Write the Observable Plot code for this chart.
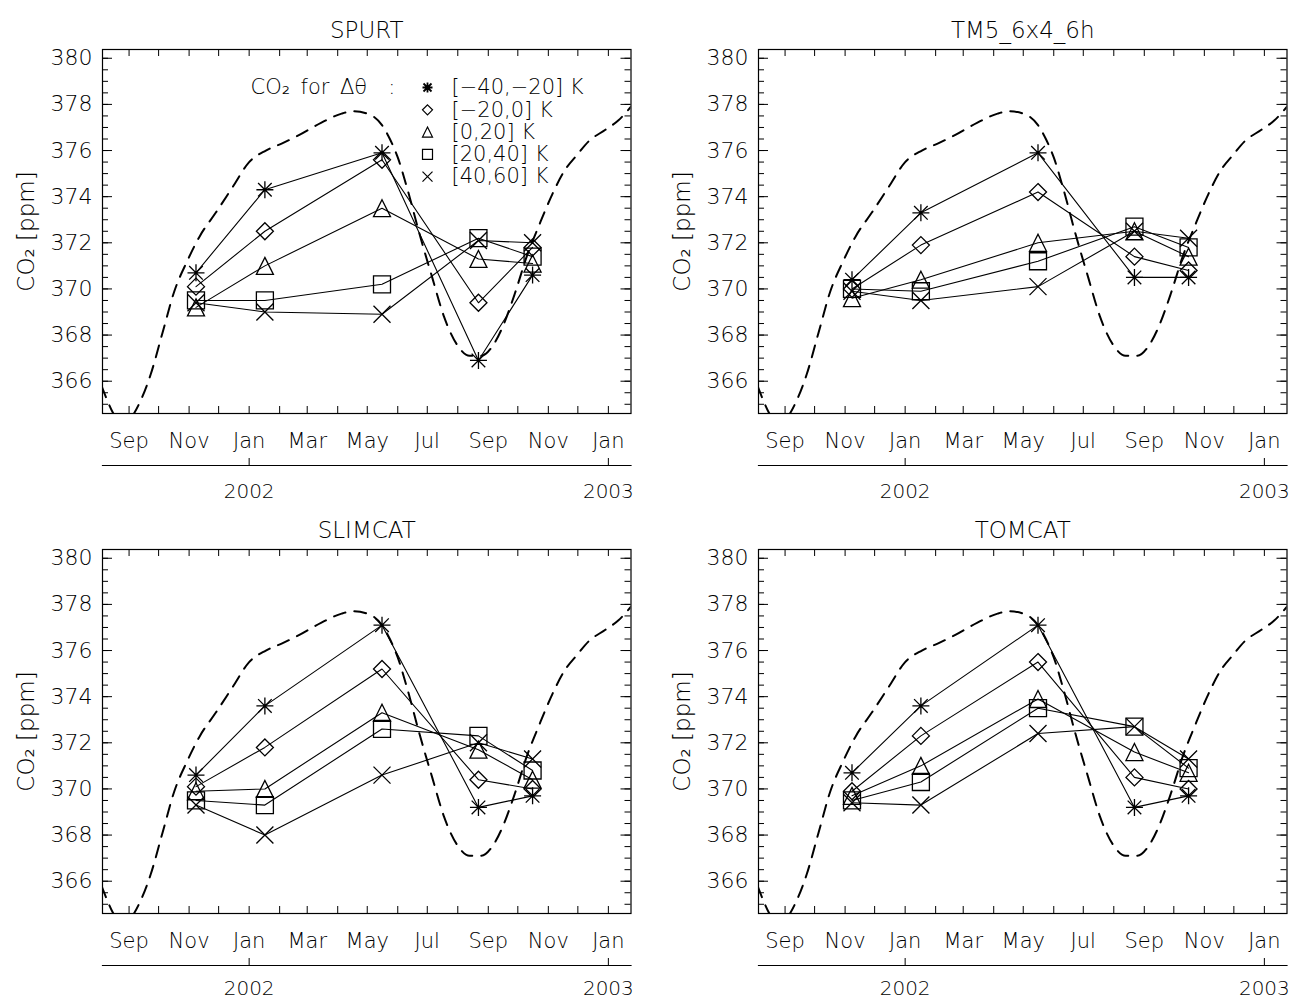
<!DOCTYPE html>
<html><head><meta charset="utf-8">
<script src="https://cdn.jsdelivr.net/npm/d3@7"></script>
<script src="https://cdn.jsdelivr.net/npm/@observablehq/plot@0.6"></script>
<style>
body{margin:0;background:#fff;}
#wrap{position:relative;width:1293px;height:1001px;overflow:hidden;background:#fff;}
.panel{position:absolute;}
</style></head><body><div id="wrap"></div>
<script>
// ---- data ----
const campaignDates = ["2001-11-08","2002-01-17","2002-05-16","2002-08-22","2002-10-16"];
const layerLabels = ["[\u221240,\u221220] K","[\u221220,0] K","[0,20] K","[20,40] K","[40,60] K"];
const panelTitles = ["SPURT","TM5_6x4_6h","SLIMCAT","TOMCAT"];
// rows: layers [-40,-20], [-20,0], [0,20], [20,40], [40,60]; columns: campaigns
const spurtCO2 = [
  [370.7, 374.3, 375.9, 366.9, 370.6],
  [370.1, 372.5, 375.6, 369.4, 371.8],
  [369.2, 371.0, 373.5, 371.3, 371.1],
  [369.5, 369.5, 370.2, 372.2, 371.4],
  [369.4, 369.0, 368.9, 372.1, 372.0]
];
const tm5CO2 = [
  [370.4, 373.3, 375.9, 370.5, 370.5],
  [370.0, 371.9, 374.2, 371.4, 370.8],
  [369.6, 370.4, 372.0, 372.5, 371.4],
  [370.0, 369.9, 371.2, 372.7, 371.8],
  [369.9, 369.5, 370.1, 372.5, 372.2]
];
const slimcatCO2 = [
  [370.6, 373.6, 377.1, 369.2, 369.7],
  [370.1, 371.8, 375.2, 370.4, 370.0],
  [369.9, 370.0, 373.3, 371.7, 370.4],
  [369.5, 369.3, 372.6, 372.3, 370.8],
  [369.3, 368.0, 370.6, 372.0, 371.3]
];
const tomcatCO2 = [
  [370.7, 373.6, 377.1, 369.2, 369.7],
  [369.9, 372.3, 375.5, 370.5, 370.0],
  [369.7, 371.0, 373.9, 371.6, 370.7],
  [369.5, 370.3, 373.5, 372.7, 370.9],
  [369.4, 369.3, 372.4, 372.7, 371.3]
];
// dashed reference seasonal curve
const curveDates = ["2001-08-04","2001-08-16","2001-08-26","2001-09-06","2001-09-23","2001-10-05","2001-10-17","2001-10-30",
  "2001-11-12","2001-11-28","2001-12-15","2002-01-01","2002-01-18","2002-02-03","2002-02-22","2002-03-15","2002-04-05",
  "2002-04-17","2002-05-04","2002-05-16","2002-05-24","2002-06-01","2002-06-11","2002-06-23","2002-07-06","2002-07-18",
  "2002-07-31","2002-08-13","2002-08-25","2002-09-05","2002-09-15","2002-09-28","2002-10-10","2002-10-23","2002-11-05",
  "2002-11-17","2002-11-30","2002-12-12","2002-12-29","2003-01-11","2003-01-24"];
const curveCO2 = [365.8, 364.6, 364.0, 364.6, 366.3, 368.1, 369.9, 371.2,
  372.3, 373.3, 374.4, 375.5, 376.0, 376.3, 376.7, 377.2, 377.6,
  377.7, 377.55, 377.1, 376.5, 375.7, 374.3, 372.4, 370.5, 368.8,
  367.6, 367.1, 367.1, 367.5, 368.3, 369.8, 371.4, 372.8, 374.1,
  375.1, 375.8, 376.4, 376.9, 377.3, 377.9];
const monthLabelTicks = ["2001-09-01","2001-11-01","2002-01-01","2002-03-01","2002-05-01","2002-07-01","2002-09-01","2002-11-01","2003-01-01"];
const yearTicks = ["2002-01-01","2003-01-01"];
const yLabelTicks = [366, 368, 370, 372, 374, 376, 378, 380];
const xDomain = ["2001-08-05","2003-01-24"];
const yDomain = [364.6, 380.38];

// ---- symbols (IDL-like, half-width = r) ----
const rOf = size => Math.sqrt(size / Math.PI);
const symStar = {draw(c, s){const r=rOf(s), d=r*0.8; c.moveTo(0,-r);c.lineTo(0,r);c.moveTo(-r,0);c.lineTo(r,0);c.moveTo(-d,-d);c.lineTo(d,d);c.moveTo(-d,d);c.lineTo(d,-d);}};
const symDiamond = {draw(c, s){const r=rOf(s); c.moveTo(0,-r);c.lineTo(r,0);c.lineTo(0,r);c.lineTo(-r,0);c.closePath();}};
const symTriangle = {draw(c, s){const r=rOf(s); c.moveTo(0,-r);c.lineTo(r,r);c.lineTo(-r,r);c.closePath();}};
const symSquare = {draw(c, s){const r=rOf(s); c.moveTo(-r,-r);c.lineTo(r,-r);c.lineTo(r,r);c.lineTo(-r,r);c.closePath();}};
const symTimes = {draw(c, s){const r=rOf(s); c.moveTo(-r,-r);c.lineTo(r,r);c.moveTo(-r,r);c.lineTo(r,-r);}};
const layerSymbols = [symStar, symDiamond, symTriangle, symSquare, symTimes];

const FONT = "'DejaVu Sans', sans-serif";
const W = 528.5, H = 364;
const parse = s => new Date(s);

function makePanel(title, values, withLegend, marginRight, yearPad) {
  const rows = [];
  values.forEach((vals, i) => vals.forEach((v, j) => rows.push({date: parse(campaignDates[j]), co2: v, layer: i})));
  const curve = curveDates.map((d, i) => ({date: parse(d), co2: curveCO2[i]}));
  const months = d3.utcMonth.range(parse(xDomain[0]), parse(xDomain[1]));
  const yMinor = d3.range(365, 380.01, 0.5);
  const marks = [
    Plot.line(curve, {x: "date", y: "co2", stroke: "black", strokeWidth: 2, strokeDasharray: "12,9", clip: true, curve: "monotone-x"}),
    Plot.line(rows, {x: "date", y: "co2", z: "layer", stroke: "black", strokeWidth: 1.1}),
    ...layerSymbols.map((sym, i) => Plot.dot(rows.filter(r => r.layer === i), {x: "date", y: "co2", symbol: sym, r: 8.5, stroke: "black", strokeWidth: 1.3, fill: "none"})),
    Plot.frame({stroke: "black", strokeWidth: 1.2}),
    // inward ticks
    Plot.tickY(yMinor, {y: d => d, insetRight: W - 6, stroke: "black"}),
    Plot.tickY(yMinor, {y: d => d, insetLeft: W - 6, stroke: "black"}),
    Plot.tickY(yLabelTicks, {y: d => d, insetRight: W - 10, stroke: "black"}),
    Plot.tickY(yLabelTicks, {y: d => d, insetLeft: W - 10, stroke: "black"}),
    Plot.tickX(months, {x: d => d, insetTop: H - 7, stroke: "black"}),
    Plot.tickX(months, {x: d => d, insetBottom: H - 7, stroke: "black"}),
    Plot.axisY({ticks: yLabelTicks, tickSize: 0, tickPadding: 10, fontSize: 22, label: null}),
    Plot.axisX({ticks: monthLabelTicks.map(parse), tickFormat: "%b", tickSize: 0, tickPadding: 20, fontSize: 21, label: null}),
    // second (year) axis
    Plot.frame({anchor: "bottom", dy: 52, stroke: "black", strokeWidth: 1.2}),
    Plot.tickX(yearTicks.map(parse), {x: d => d, insetTop: H - 7, dy: 52, stroke: "black"}),
    Plot.axisX({ticks: yearTicks.map(parse), tickFormat: "%Y", tickSize: 0, tickPadding: yearPad, dy: 52, fontSize: 20, label: null}),
    Plot.text([title], {frameAnchor: "top", dy: -19, fontSize: 23, lineAnchor: "middle"}),
    Plot.text(["CO\u2082 [ppm]"], {frameAnchor: "left", dx: -76, rotate: -90, fontSize: 23, textAnchor: "middle", lineAnchor: "middle"})
  ];
  if (withLegend) {
    marks.push(Plot.text(["CO\u2082\u2002for\u2002\u0394\u03b8\u2003:"], {frameAnchor: "top-left", dx: 148, dy: 38, textAnchor: "start", lineAnchor: "middle", fontSize: 21}));
    layerSymbols.forEach((sym, i) => {
      marks.push(Plot.dot([layerLabels[i]], {frameAnchor: "top-left", dx: 325, dy: 38 + 22.3 * i, symbol: sym, r: 5, stroke: "black", strokeWidth: i === 0 ? 1.8 : 1.2, fill: "none"}));
      marks.push(Plot.text([layerLabels[i]], {frameAnchor: "top-left", dx: 349, dy: 38 + 22.3 * i, textAnchor: "start", lineAnchor: "middle", fontSize: 21}));
    });
  }
  return Plot.plot({
    width: 102 + W + marginRight, height: 501,
    marginLeft: 102, marginRight: marginRight, marginTop: 49, marginBottom: 88,
    x: {type: "utc", domain: xDomain.map(parse)},
    y: {domain: yDomain},
    style: {fontFamily: FONT, fontWeight: 200, color: "black", background: "white", overflow: "visible"},
    marks
  });
}

const wrap = document.getElementById("wrap");
const panels = [
  {title: panelTitles[0], values: spurtCO2, legend: true, left: 0, top: 0, mr: 14.5, yp: 18.5},
  {title: panelTitles[1], values: tm5CO2, legend: false, left: 656, top: 0, mr: 6.5, yp: 18.5},
  {title: panelTitles[2], values: slimcatCO2, legend: false, left: 0, top: 500, mr: 14.5, yp: 15.5},
  {title: panelTitles[3], values: tomcatCO2, legend: false, left: 656, top: 500, mr: 6.5, yp: 15.5}
];
for (const p of panels) {
  const el = makePanel(p.title, p.values, p.legend, p.mr, p.yp);
  el.classList.add("panel");
  el.style.left = p.left + "px";
  el.style.top = p.top + "px";
  wrap.appendChild(el);
}
</script></body></html>
